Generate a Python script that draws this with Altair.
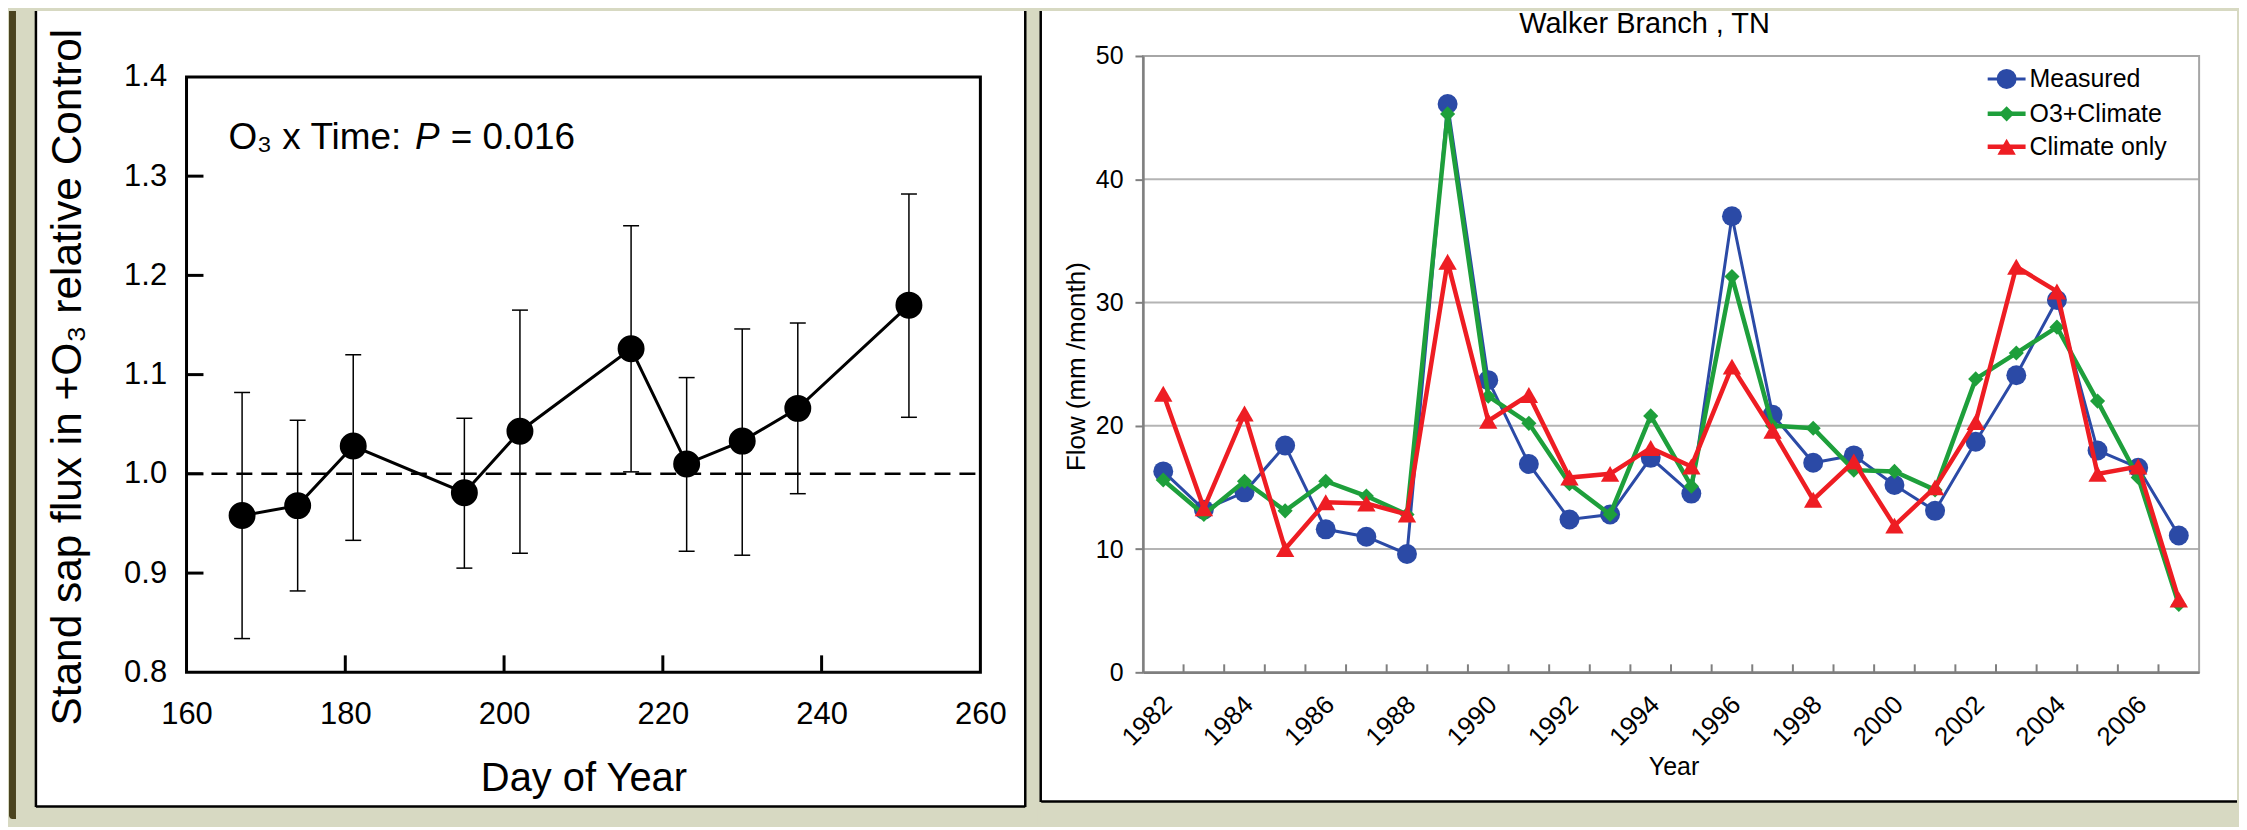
import altair as alt
import pandas as pd

# ---------------- data : left panel ----------------
day_of_year = [167, 174, 181, 195, 202, 216, 223, 230, 237, 251]
sap_flux_ratio = [0.958, 0.968, 1.028, 0.981, 1.043, 1.126, 1.010, 1.033, 1.066, 1.170]
ratio_upper = [1.082, 1.054, 1.120, 1.056, 1.165, 1.250, 1.097, 1.146, 1.152, 1.282]
ratio_lower = [0.834, 0.882, 0.933, 0.905, 0.920, 1.002, 0.922, 0.918, 0.980, 1.057]
left_x_labels = [160, 180, 200, 220, 240, 260]
left_y_labels = [0.8, 0.9, 1.0, 1.1, 1.2, 1.3, 1.4]
left_x_inner_ticks = [180, 200, 220, 240]
left_y_inner_ticks = [0.9, 1.0, 1.1, 1.2, 1.3]
reference_ratio = [1.0]

# ---------------- data : right panel ----------------
years = [1982, 1983, 1984, 1985, 1986, 1987, 1988, 1989, 1990, 1991, 1992, 1993, 1994,
         1995, 1996, 1997, 1998, 1999, 2000, 2001, 2002, 2003, 2004, 2005, 2006, 2007]
measured = [16.3, 13.2, 14.6, 18.4, 11.6, 11.0, 9.6, 46.1, 23.7, 16.9, 12.4, 12.8, 17.4,
            14.5, 37.0, 20.9, 17.0, 17.6, 15.2, 13.1, 18.7, 24.1, 30.2, 18.0, 16.6, 11.1]
o3_climate = [15.6, 12.8, 15.5, 13.1, 15.5, 14.3, 12.8, 45.3, 22.4, 20.2, 15.3, 12.8, 20.8,
              15.1, 32.1, 20.0, 19.8, 16.4, 16.3, 14.8, 23.8, 25.9, 28.0, 22.0, 15.8, 5.5]
climate_only = [22.6, 13.3, 21.0, 10.0, 13.8, 13.7, 12.8, 33.3, 20.4, 22.5, 15.8, 16.1, 18.2,
                16.7, 24.8, 19.6, 14.0, 17.1, 11.9, 15.0, 20.3, 32.9, 30.9, 16.1, 16.7, 5.9]
year_labels = [1982, 1984, 1986, 1988, 1990, 1992, 1994, 1996, 1998, 2000, 2002, 2004, 2006]
year_boundaries = [1982.5, 1983.5, 1984.5, 1985.5, 1986.5, 1987.5, 1988.5, 1989.5, 1990.5,
                   1991.5, 1992.5, 1993.5, 1994.5, 1995.5, 1996.5, 1997.5, 1998.5, 1999.5,
                   2000.5, 2001.5, 2002.5, 2003.5, 2004.5, 2005.5, 2006.5]
flow_labels = [0, 10, 20, 30, 40, 50]
flow_gridlines = [10, 20, 30, 40]
series_names = ["Measured", "O3+Climate", "Climate only"]

# ---------------- styles ----------------
FONT = "Liberation Sans"
BG = "#d7d9c2"
DARK = "#4a431f"
BLUE = "#2b4aa6"
GREEN = "#1e9f3b"
RED = "#ee1d23"
AXGRAY = "#7f7f7f"

ONE = pd.DataFrame({"k": [0]})


def vrect(x1, x2, y1, y2, **kw):
    return alt.Chart(ONE).mark_rect(**kw).encode(
        x=alt.value(x1), x2=alt.value(x2), y=alt.value(y1), y2=alt.value(y2))


def vrule(x1, x2, y1, y2, **kw):
    return alt.Chart(ONE).mark_rule(**kw).encode(
        x=alt.value(x1), x2=alt.value(x2), y=alt.value(y1), y2=alt.value(y2))


def vtext(txt, x, y, **kw):
    return alt.Chart(ONE).mark_text(text=txt, **kw).encode(x=alt.value(x), y=alt.value(y))


# ====================== LEFT PANEL ======================
# view spans the same vertical band as the right panel; the data range sits 21 px lower
W1, H1 = 796, 618
TOP1 = 21
xs_l = alt.Scale(domain=[160, 260], nice=False, zero=False)
ys_l = alt.Scale(domain=[0.8, 1.4], nice=False, zero=False, range=[H1, TOP1])
ax_l = alt.Axis(values=left_x_labels, ticks=False, tickSize=0, domain=False, grid=False,
                labelFontSize=31, labelColor="black", labelPadding=27, labelFlush=False,
                labelOverlap=False, title="Day of Year", titleFontSize=40,
                titleFontWeight="normal", titleColor="black", titleX=W1 / 2, titleY=107,
                titleBaseline="middle", titleAlign="center", zindex=1)
ay_l = alt.Axis(values=left_y_labels, format=".1f", ticks=False, tickSize=0, domain=False,
                grid=False, labelFontSize=31, labelColor="black", labelPadding=20,
                labelFlush=False, labelOverlap=False,
                title="Stand sap flux in +O\u2083 relative Control", titleFontSize=42.5,
                titleFontWeight="normal", titleColor="black", titleX=-119,
                titleY=(H1 + TOP1) / 2 + 2, titleBaseline="middle", titleAlign="center",
                zindex=1)

df_l = pd.DataFrame({"day": day_of_year, "ratio": sap_flux_ratio,
                     "lo": ratio_lower, "hi": ratio_upper})
XL = alt.X("day:Q", scale=xs_l, axis=ax_l)

left_layers = [
    vrect(-178, 853, -45, 771, color=BG),
    vrect(-178, -171, -45, 765, color=DARK, cornerRadiusBottomLeft=4),
    vrect(-150, 841, -45, 752, color="white"),
    vrule(-151, -151, -45, 753, color="black", strokeWidth=2.5),
    vrule(841, 841, -45, 753, color="black", strokeWidth=2.5),
    vrule(-151, 841, 752.5, 752.5, color="black", strokeWidth=2.5),
    vrect(0, W1, TOP1, H1, fillOpacity=0, stroke="black", strokeWidth=3),
    alt.Chart(pd.DataFrame({"ratio": reference_ratio})).mark_rule(
        color="black", strokeWidth=2.5, strokeDash=[16, 9]).encode(
        y=alt.Y("ratio:Q", scale=ys_l, axis=ay_l), x=alt.value(0), x2=alt.value(W1)),
    alt.Chart(pd.DataFrame({"day": left_x_inner_ticks})).mark_rule(
        color="black", strokeWidth=3).encode(x=XL, y=alt.value(H1), y2=alt.value(H1 - 17)),
    alt.Chart(pd.DataFrame({"ratio": left_y_inner_ticks})).mark_rule(
        color="black", strokeWidth=3).encode(
        y=alt.Y("ratio:Q", scale=ys_l, axis=ay_l), x=alt.value(0), x2=alt.value(17)),
    alt.Chart(df_l).mark_rule(color="black", strokeWidth=1.5).encode(
        x=XL, y=alt.Y("lo:Q", scale=ys_l, axis=ay_l), y2="hi:Q"),
    alt.Chart(df_l).mark_rule(color="black", strokeWidth=1.5, xOffset=-8, x2Offset=8).encode(
        x=XL, x2="day:Q", y=alt.Y("hi:Q", scale=ys_l, axis=ay_l)),
    alt.Chart(df_l).mark_rule(color="black", strokeWidth=1.5, xOffset=-8, x2Offset=8).encode(
        x=XL, x2="day:Q", y=alt.Y("lo:Q", scale=ys_l, axis=ay_l)),
    alt.Chart(df_l).mark_line(color="black", strokeWidth=3).encode(
        x=XL, y=alt.Y("ratio:Q", scale=ys_l, axis=ay_l)),
    alt.Chart(df_l).mark_point(filled=True, shape="circle", size=730, color="black",
                               opacity=1).encode(
        x=XL, y=alt.Y("ratio:Q", scale=ys_l, axis=ay_l)),
    vtext("O\u2083 x Time:", 42, 82, align="left", baseline="middle", fontSize=37,
          color="black"),
    vtext("P", 229, 82, align="left", baseline="middle", fontSize=37, fontStyle="italic",
          color="black"),
    vtext("= 0.016", 265, 82, align="left", baseline="middle", fontSize=37, color="black"),
]
left = alt.layer(*left_layers).properties(width=W1, height=H1)

# ====================== RIGHT PANEL ======================
W2, H2 = 1059, 618
xs_r = alt.Scale(domain=[1981.5, 2007.5], nice=False, zero=False)
ys_r = alt.Scale(domain=[0, 50], nice=False, zero=True)
ax_r = alt.Axis(values=year_labels, format="d", ticks=False, tickSize=0, domain=True,
                domainColor=AXGRAY, domainWidth=2.5, grid=False, labelFontSize=26,
                labelColor="black", labelAngle=315, labelAlign="right",
                labelBaseline="middle", labelPadding=28, labelOffset=4, labelFlush=False,
                labelOverlap=False, title="Year", titleFontSize=25,
                titleFontWeight="normal", titleColor="black", titleX=532, titleY=94,
                titleBaseline="middle", titleAlign="center", zindex=1)
ay_r = alt.Axis(values=flow_labels, format="d", ticks=True, tickSize=8, tickColor=AXGRAY,
                tickWidth=2, domain=True, domainColor=AXGRAY, domainWidth=2.5, grid=False,
                labelFontSize=25, labelColor="black", labelPadding=12, labelFlush=False,
                labelOverlap=False, title="Flow (mm /month)", titleFontSize=26,
                titleFontWeight="normal", titleColor="black", titleX=-67, titleY=H2 / 2 + 2,
                titleBaseline="middle", titleAlign="center", zindex=1)
XR = alt.X("year:Q", scale=xs_r, axis=ax_r)
YR = alt.Y("flow:Q", scale=ys_r, axis=ay_r)

series = [
    (measured, BLUE, "circle", 3, 400),
    (o3_climate, GREEN, "diamond", 4.5, 230),
    (climate_only, RED, "triangle-up", 4.5, 340),
]

# total width kept at 2231 px so the page never has to shrink the drawing
right_layers = [
    vrect(-103, 1097, -45, 771, color=BG),
    vrect(-102, 1097, -45, 747, color="white"),
    vrule(-102.5, -102.5, -45, 748, color="black", strokeWidth=2.5),
    vrule(-102, 1097, 747.5, 747.5, color="black", strokeWidth=2.5),
    alt.Chart(pd.DataFrame({"flow": flow_gridlines})).mark_rule(
        color="#b4b4b4", strokeWidth=2).encode(y=YR, x=alt.value(0), x2=alt.value(W2)),
    vrect(0, W2, 0, H2, fillOpacity=0, stroke="#a6a6a6", strokeWidth=2),
    alt.Chart(pd.DataFrame({"year": year_boundaries})).mark_rule(
        color=AXGRAY, strokeWidth=2).encode(x=XR, y=alt.value(H2), y2=alt.value(H2 - 8)),
]
for vals, col, shp, lw, sz in series:
    dfs = pd.DataFrame({"year": years, "flow": vals})
    right_layers.append(alt.Chart(dfs).mark_line(color=col, strokeWidth=lw).encode(x=XR, y=YR))
    right_layers.append(alt.Chart(dfs).mark_point(filled=True, shape=shp, size=sz, color=col,
                                                  opacity=1).encode(x=XR, y=YR))

legend_rows = [23, 58, 91]
for name, (vals, col, shp, lw, sz), yy in zip(series_names, series, legend_rows):
    right_layers.append(vrule(847, 885, yy, yy, color=col, strokeWidth=lw))
    right_layers.append(alt.Chart(ONE).mark_point(filled=True, shape=shp, size=sz, color=col,
                                                  opacity=1).encode(x=alt.value(866),
                                                                    y=alt.value(yy)))
    right_layers.append(vtext(name, 889, yy, align="left", baseline="middle", fontSize=25,
                              color="black"))

right_layers.append(vtext("Walker Branch , TN", 503, -32, align="center", baseline="middle",
                          fontSize=29, color="black"))

right = alt.layer(*right_layers).properties(width=W2, height=H2)

chart = alt.concat(left, right, columns=2, spacing=0, align="none").properties(
    padding=0, background=BG
).configure(font=FONT).configure_view(stroke="transparent")

chart.save("out.html", embed_options={"renderer": "svg", "actions": False})
